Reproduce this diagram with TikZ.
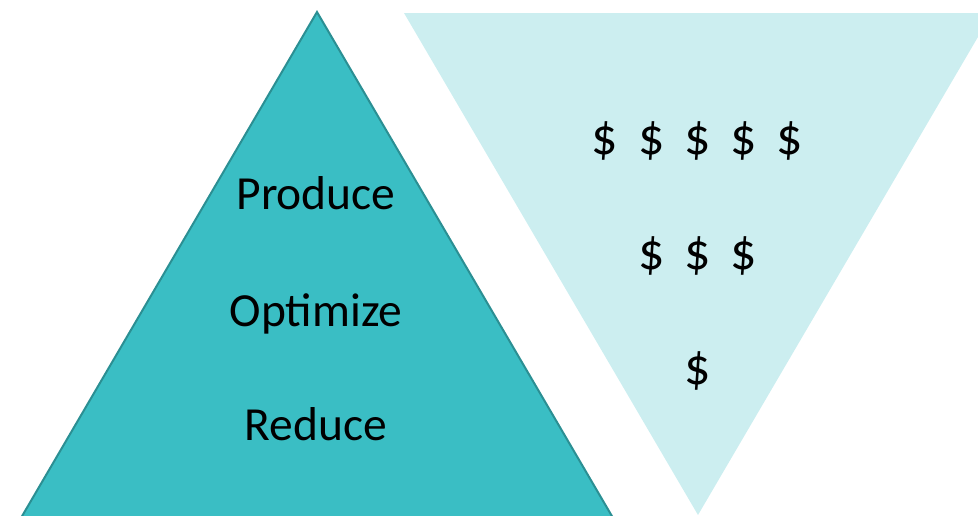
\documentclass[tikz,border=0pt]{standalone}
\usepackage{fontspec}
\setmainfont{Carlito}
\definecolor{tealfill}{HTML}{3ABEC4}
\definecolor{tealline}{HTML}{2B8F93}
\definecolor{lightteal}{HTML}{CCEEF0}
\tikzset{
  label/.style={font=\fontsize{47.5}{56}\selectfont, inner sep=0pt, anchor=base, text=black},
  dollar/.style={font=\fontsize{52}{60}\selectfont, inner sep=0pt, anchor=base, text=black}
}
\begin{document}
\begin{tikzpicture}[x=1pt,y=-1pt]
\useasboundingbox (0,0) rectangle (978,515);
\begin{scope}
\clip (0,0) rectangle (978,515);
\fill[lightteal] (404,13) -- (992,13) -- (698,515) -- cycle;
\filldraw[fill=tealfill, draw=tealline, line width=2pt, line join=miter] (317,12) -- (623,535) -- (11,535) -- cycle;
\end{scope}
\node[label] (produce) at (316,209) {Produce};
\node[label] (optimize) at (316,326) {Optimize};
\node[label] (reduce) at (316,440) {Reduce};
\node[dollar] (d1) at (605,154) {\$};
\node[dollar] (d2) at (651.5,154) {\$};
\node[dollar] (d3) at (698,154) {\$};
\node[dollar] (d4) at (744,154) {\$};
\node[dollar] (d5) at (790,154) {\$};
\node[dollar] (e1) at (651.5,269) {\$};
\node[dollar] (e2) at (698,269) {\$};
\node[dollar] (e3) at (744,269) {\$};
\node[dollar] (f1) at (698,384) {\$};
\end{tikzpicture}
\end{document}
